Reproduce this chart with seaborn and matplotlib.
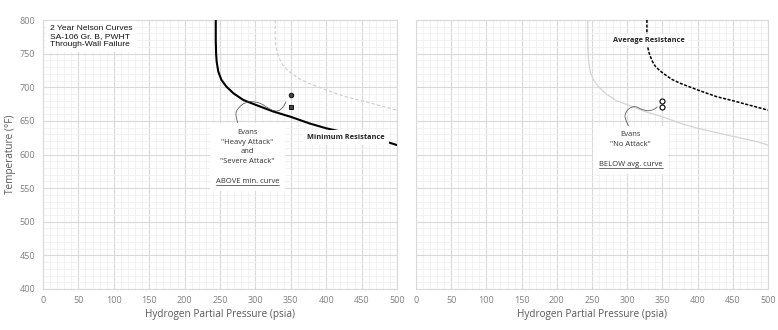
import numpy as np
import pandas as pd
import matplotlib
matplotlib.use("Agg")
import matplotlib.pyplot as plt
from matplotlib.path import Path
from matplotlib.patches import PathPatch
from matplotlib.lines import Line2D
import seaborn as sns

# ---------------- data ----------------
min_p = [244, 244, 244.5, 245.3, 247.6, 252, 259, 269, 283, 300, 325, 350, 377, 400, 450, 485, 500]
min_t = [800, 770, 750, 738, 723, 711, 701, 691, 681, 674, 664, 656, 646, 639, 627, 619, 614]

avg_p = [328, 328, 329, 332, 336, 340, 346, 352, 363, 375, 400, 427, 450, 475, 500]
avg_t = [800, 775, 760, 748, 738, 731, 725, 720, 712, 706, 696, 686, 680, 673, 666]

heavy_p = [350]
heavy_t = [689]
severe_p = [350]
severe_t = [671]
noattack_p = [350, 350]
noattack_t = [679, 671]

x_ticks = list(range(0, 501, 50))
y_ticks = list(range(400, 801, 50))

# ---------------- style ----------------
sns.set_theme(style="white")
plt.rcParams['font.family'] = ['Open Sans', 'DejaVu Sans']

W, H = 778, 330
fig = plt.figure(figsize=(W / 100, H / 100), dpi=100)
ax1 = fig.add_axes([43 / W, 41 / H, 354 / W, 269 / H])
ax2 = fig.add_axes([416 / W, 41 / H, 352 / W, 269 / H])

df_min = pd.DataFrame({"p": min_p, "t": min_t})
df_avg = pd.DataFrame({"p": avg_p, "t": avg_t})

LABEL_FS = 7.2


def style_axes(ax):
    ax.set_xlim(0, 500)
    ax.set_ylim(400, 800)
    ax.set_xticks(x_ticks)
    ax.set_yticks(y_ticks)
    ax.set_xticks(np.arange(0, 501, 10), minor=True)
    ax.set_yticks(np.arange(400, 801, 10), minor=True)
    ax.grid(which="major", color="#d9d9d9", lw=0.8)
    ax.grid(which="minor", color="#f0f0f0", lw=0.6)
    ax.set_axisbelow(True)
    for s in ax.spines.values():
        s.set_color("#d9d9d9")
        s.set_linewidth(0.8)
    ax.tick_params(which="both", length=0, labelsize=6.5, labelcolor="#808080")
    ax.tick_params(axis="y", pad=5.5)
    ax.tick_params(axis="x", pad=5)


def catmull_path(pts):
    """Smooth cubic Bezier path passing through the given waypoints."""
    pts = np.asarray(pts, dtype=float)
    ext = np.vstack([pts[0], pts, pts[-1]])
    verts = [tuple(pts[0])]
    codes = [Path.MOVETO]
    for i in range(1, len(ext) - 2):
        p0, p1, p2, p3 = ext[i - 1], ext[i], ext[i + 1], ext[i + 2]
        c1 = p1 + (p2 - p0) / 6.0
        c2 = p2 - (p3 - p1) / 6.0
        verts += [tuple(c1), tuple(c2), tuple(p2)]
        codes += [Path.CURVE4] * 3
    return Path(verts, codes)


# ---------------- left panel ----------------
sns.lineplot(data=df_avg, x="p", y="t", ax=ax1, sort=False, estimator=None,
             color="#cccccc", lw=0.8, linestyle=(0, (3, 2)), zorder=3)
sns.lineplot(data=df_min, x="p", y="t", ax=ax1, sort=False, estimator=None,
             color="black", lw=1.5, zorder=3)
sns.scatterplot(x=heavy_p, y=heavy_t, ax=ax1, marker="o", s=11,
                color="#454545", edgecolor="black", linewidth=0.6, zorder=5)
sns.scatterplot(x=severe_p, y=severe_t, ax=ax1, marker="s", s=11,
                color="#454545", edgecolor="black", linewidth=0.6, zorder=5)
style_axes(ax1)
ax1.set_xlabel("Hydrogen Partial Pressure (psia)", fontsize=LABEL_FS, color="#595959")
ax1.set_ylabel("Temperature (°F)", fontsize=LABEL_FS, color="#595959")

ax1.text(10, 792, "2 Year Nelson Curves\nSA-106 Gr. B, PWHT\nThrough-Wall Failure",
         ha="left", va="top", fontsize=6.1, family=["Liberation Sans", "DejaVu Sans"],
         color="#111111", linespacing=1.12,
         bbox=dict(facecolor="white", edgecolor="none", pad=3), zorder=6)

ax1.text(428, 625, "Minimum Resistance", ha="center", va="center", fontsize=5.3,
         fontweight="bold", color="#222222",
         bbox=dict(facecolor="white", edgecolor="none", pad=3), zorder=6)

left_block = ax1.text(289, 596.5,
                      "Evans\n\"Heavy Attack\"\nand\n\"Severe Attack\"\n\nABOVE min. curve",
                      ha="center", va="center", fontsize=5.5, color="#333333",
                      linespacing=1.58, multialignment="center",
                      bbox=dict(facecolor="white", edgecolor="none", pad=4), zorder=6)

squiggle_left = [(275.8, 643.9), (272.6, 661.7), (280.6, 673.6), (292.4, 678.5),
                 (306.5, 676.1), (323, 666.2), (332.3, 665.1), (339.4, 671.1),
                 (343.2, 678.5)]
ax1.add_patch(PathPatch(catmull_path(squiggle_left), fill=False, lw=0.5,
                        edgecolor="#444444", zorder=4))

# ---------------- right panel ----------------
sns.lineplot(data=df_min, x="p", y="t", ax=ax2, sort=False, estimator=None,
             color="#d4d4d4", lw=0.9, zorder=3)
sns.lineplot(data=df_avg, x="p", y="t", ax=ax2, sort=False, estimator=None,
             color="black", lw=1.1, linestyle=(0, (2, 1)), zorder=3)
sns.scatterplot(x=noattack_p, y=noattack_t, ax=ax2, marker="o", s=13,
                facecolor="white", edgecolor="black", linewidth=0.8, zorder=5)
style_axes(ax2)
ax2.set_xlabel("Hydrogen Partial Pressure (psia)", fontsize=LABEL_FS, color="#595959")
ax2.set_ylabel("")
ax2.tick_params(axis="y", labelleft=False)

ax2.text(331, 770, "Average Resistance", ha="center", va="center", fontsize=5.3,
         fontweight="bold", color="#222222",
         bbox=dict(facecolor="white", edgecolor="none", pad=2), zorder=6)

right_block = ax2.text(305, 607, "Evans\n\"No Attack\"\n\nBELOW avg. curve",
                       ha="center", va="center", fontsize=5.5, color="#333333",
                       linespacing=1.58, multialignment="center",
                       bbox=dict(facecolor="white", edgecolor="none", pad=4), zorder=6)

squiggle_right = [(304, 637.5), (296.9, 656.2), (301.6, 667.2), (311.1, 671.1),
                  (320.6, 667.2), (330, 665.1), (338.1, 667.2), (342.8, 671.1)]
ax2.add_patch(PathPatch(catmull_path(squiggle_right), fill=False, lw=0.5,
                        edgecolor="#444444", zorder=4))

for ax in (ax1, ax2):
    ax.xaxis.set_label_coords(0.5, -0.075)
ax1.yaxis.set_label_coords(-0.075, 0.5)

# ---------------- underlines ----------------
fig.canvas.draw()
renderer = fig.canvas.get_renderer()


def underline(ax, block, last):
    ext = block.get_window_extent(renderer)
    probe = ax.text(0, 0, last, fontsize=block.get_fontsize(), family=block.get_family())
    w = probe.get_window_extent(renderer).width
    probe.remove()
    cx = (ext.x0 + ext.x1) / 2
    yb = ext.y0 + 0.5
    inv = fig.transFigure.inverted()
    (x0, y0) = inv.transform((cx - w / 2, yb))
    (x1, y1) = inv.transform((cx + w / 2, yb))
    fig.add_artist(Line2D([x0, x1], [y0, y1], transform=fig.transFigure,
                          color="#333333", lw=0.5, zorder=10))


underline(ax1, left_block, "ABOVE min. curve")
underline(ax2, right_block, "BELOW avg. curve")

fig.savefig("out.png", dpi=100)
